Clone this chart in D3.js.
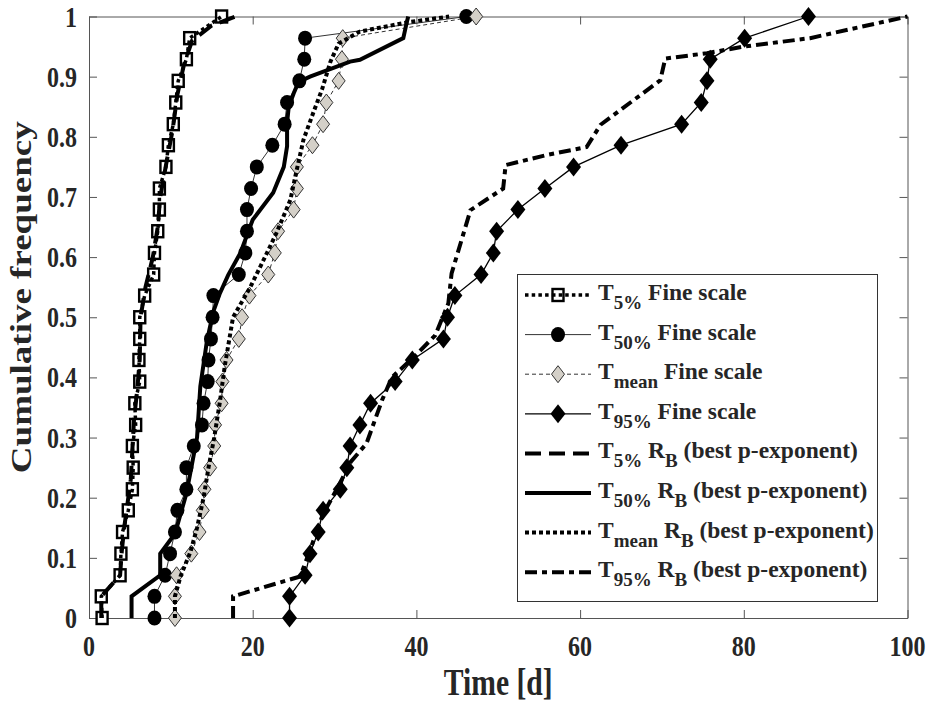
<!DOCTYPE html>
<html>
<head>
<meta charset="utf-8">
<script src="https://cdn.jsdelivr.net/npm/d3@7"></script>
<style>
  body { margin: 0; background: #fff; }
  text { font-family: "Liberation Serif", "Times New Roman", serif; font-weight: bold; fill: #262626; }
</style>
</head>
<body>
<div id="chart"></div>
<script>
// cumulative frequency levels (29 events)
let cumFreq = [0, 0.036, 0.071, 0.107, 0.143, 0.179, 0.214, 0.25, 0.286, 0.321, 0.357, 0.393, 0.429, 0.464,
  0.5, 0.536, 0.571, 0.607, 0.643, 0.679, 0.714, 0.75, 0.786, 0.821, 0.857, 0.893, 0.929, 0.964, 1];

// fine scale times [d]
let t5Fine = [1.6, 1.5, 3.8, 3.9, 4.1, 4.8, 5.3, 5.4, 5.3, 5.7, 5.6, 6.2, 6.1, 6.2, 6.2, 6.8, 7.9, 8.0, 8.4, 8.6,
  8.6, 9.4, 9.7, 10.3, 10.6, 10.9, 11.9, 12.3, 16.2];
let t50Fine = [8.0, 8.0, 9.3, 9.9, 10.5, 10.8, 11.9, 11.9, 12.8, 13.8, 14.0, 14.5, 14.6, 14.9, 15.1, 15.2, 18.3,
  19.1, 19.3, 19.3, 19.8, 20.5, 22.4, 23.9, 24.2, 25.7, 26.3, 26.4, 46.1];
let tMeanFine = [10.5, 10.5, 10.7, 12.5, 13.5, 13.9, 14.1, 14.8, 15.3, 15.4, 16.2, 16.3, 16.8, 18.3, 18.7, 19.6,
  21.9, 22.7, 23.1, 25.0, 25.4, 25.4, 27.3, 28.6, 29.0, 30.5, 30.9, 31.0, 47.3];
let t95Fine = [24.5, 24.5, 26.4, 27.0, 28.0, 28.6, 30.7, 31.5, 31.9, 33.1, 34.4, 37.4, 39.5, 43.3, 43.8, 44.7,
  47.9, 49.4, 49.8, 52.4, 55.7, 59.2, 65.0, 72.4, 74.8, 75.5, 75.9, 80.1, 87.9];

// R_B (best p-exponent) curves
let t5RbX = [1.5, 1.5, 3.8, 4.0, 4.3, 4.7, 5.1, 5.3, 5.5, 5.9, 6.2, 6.3, 6.9, 7.8, 8.4, 8.7, 9.5, 10.2, 10.8, 11.6, 12.6, 15.0, 17.9];
let t5RbY = [0, 0.036, 0.071, 0.11, 0.15, 0.19, 0.23, 0.28, 0.33, 0.38, 0.43, 0.5, 0.55, 0.6, 0.65, 0.7, 0.76, 0.81, 0.87, 0.92, 0.96, 0.985, 1];
let t50RbX = [5.2, 5.2, 8.7, 8.7, 10.5, 11.9, 13.2, 13.6, 14.4, 15.2, 16.0, 17.0, 18.5, 20.0, 22.5, 23.8, 24.2, 24.2,
  24.4, 25.0, 25.6, 27.0, 31.9, 33.1, 38.4, 38.8, 39.0];
let t50RbY = [0, 0.036, 0.071, 0.107, 0.14, 0.207, 0.30, 0.385, 0.46, 0.51, 0.54, 0.57, 0.607, 0.662, 0.707, 0.75,
  0.784, 0.823, 0.85, 0.872, 0.891, 0.90, 0.925, 0.928, 0.964, 0.989, 1.0];
let tMeanRbX = [10.5, 10.5, 11.2, 12.4, 13.2, 14.0, 14.6, 15.3, 16.0, 16.6, 17.6, 19.7, 21.5, 22.9, 24.6, 25.3, 26.2,
  27.4, 28.5, 29.5, 30.5, 33.1, 38.8, 44.0];
let tMeanRbY = [0, 0.036, 0.07, 0.11, 0.15, 0.2, 0.25, 0.3, 0.36, 0.42, 0.5, 0.55, 0.6, 0.64, 0.695, 0.74, 0.795,
  0.84, 0.88, 0.925, 0.955, 0.975, 0.99, 1.0];
let t95RbX = [17.6, 17.6, 25.8, 27.2, 28.5, 30.5, 32.0, 33.9, 35.8, 37.0, 39.7, 42.3, 43.9, 44.3, 45.4, 46.6, 50.6,
  50.9, 56.0, 60.8, 62.5, 69.8, 70.4, 75.5, 80.0, 88.1, 100];
let t95RbY = [0, 0.036, 0.069, 0.12, 0.17, 0.22, 0.26, 0.29, 0.362, 0.4, 0.434, 0.47, 0.523, 0.573, 0.623, 0.678,
  0.714, 0.753, 0.77, 0.783, 0.82, 0.894, 0.93, 0.939, 0.95, 0.964, 1.0];

let xTicks = [0, 20, 40, 60, 80, 100];
let yTicks = [0, 0.1, 0.2, 0.3, 0.4, 0.5, 0.6, 0.7, 0.8, 0.9, 1];
let yTickLabels = ["0", "0.1", "0.2", "0.3", "0.4", "0.5", "0.6", "0.7", "0.8", "0.9", "1"];

// legend entries: subscript + whether it is an R_B curve
let legendSubs = ["5%", "50%", "mean", "95%", "5%", "50%", "mean", "95%"];
let legendIsRb = [false, false, false, false, true, true, true, true];

// set the dimensions and margins of the graph
let margin = {top: 16.5, right: 23.5, bottom: 87, left: 89},
    width = 931 - margin.left - margin.right,
    height = 705 - margin.top - margin.bottom;

let svg = d3.select("#chart")
  .append("svg")
    .attr("width", 931)
    .attr("height", 705);

svg.append("rect").attr("width", 931).attr("height", 705).attr("fill", "#fff");

let g = svg.append("g")
    .attr("transform", "translate(" + margin.left + "," + margin.top + ")");

let x = d3.scaleLinear().domain([0, 100]).range([0, width]);
let y = d3.scaleLinear().domain([0, 1]).range([height, 0]);

// axes box + inward ticks (MATLAB style)
let axisColor = "#555";
let tickLen = 8;
let xb = g.append("g").attr("transform", "translate(0," + height + ")")
  .call(d3.axisBottom(x).tickValues(xTicks).tickSizeInner(-tickLen).tickSizeOuter(0).tickFormat(""));
let xt = g.append("g")
  .call(d3.axisTop(x).tickValues(xTicks).tickSizeInner(-tickLen).tickSizeOuter(0).tickFormat(""));
let yl = g.append("g")
  .call(d3.axisLeft(y).tickValues(yTicks).tickSizeInner(-tickLen).tickSizeOuter(0).tickFormat(""));
let yr = g.append("g").attr("transform", "translate(" + width + ",0)")
  .call(d3.axisRight(y).tickValues(yTicks).tickSizeInner(-tickLen).tickSizeOuter(0).tickFormat(""));
[xb, xt, yl, yr].forEach(function(a) {
  a.selectAll("path, line").attr("stroke", axisColor).attr("stroke-width", 1);
});

// tick labels (squashed serif like the original)
let sx = 0.8;
xTicks.forEach(function(v) {
  g.append("text")
    .attr("transform", "translate(" + x(v) + "," + (height + 38) + ") scale(" + sx + ",1)")
    .attr("text-anchor", "middle")
    .style("font-size", "30px")
    .text(v);
});
yTicks.forEach(function(v, i) {
  g.append("text")
    .attr("transform", "translate(-12," + (y(v) + 10) + ") scale(" + sx + ",1)")
    .attr("text-anchor", "end")
    .style("font-size", "30px")
    .text(yTickLabels[i]);
});

// axis labels
g.append("text")
  .attr("transform", "translate(" + (width / 2) + "," + (height + 77) + ") scale(" + sx + ",1)")
  .attr("text-anchor", "middle")
  .style("font-size", "37px")
  .text("Time [d]");
g.append("text")
  .attr("transform", "translate(-58," + (height / 2 - 20) + ") rotate(-90) scale(1," + sx + ")")
  .attr("text-anchor", "middle")
  .style("font-size", "37px")
  .text("Cumulative frequency");

// series styles
let fineSeries = [
  {xs: t5Fine, stroke: "#000", width: 3.5, dash: "3.5,3.2", marker: "square"},
  {xs: t50Fine, stroke: "#333", width: 1, dash: null, marker: "circle"},
  {xs: tMeanFine, stroke: "#333", width: 1, dash: "4,3", marker: "diamondGray"},
  {xs: t95Fine, stroke: "#000", width: 1.3, dash: null, marker: "diamondBlack"}
];
let rbSeries = [
  {xs: t5RbX, ys: t5RbY, dash: "16,8"},
  {xs: t50RbX, ys: t50RbY, dash: null},
  {xs: tMeanRbX, ys: tMeanRbY, dash: "4,3"},
  {xs: t95RbX, ys: t95RbY, dash: "12,5,5,5"}
];

let line = d3.line().x(function(d) { return x(d[0]); }).y(function(d) { return y(d[1]); });

function drawMarker(sel, type, px, py) {
  if (type === "square") {
    sel.append("rect").attr("x", px - 5.5).attr("y", py - 6).attr("width", 11).attr("height", 12)
      .attr("fill", "#fff").attr("stroke", "#000").attr("stroke-width", 2.4);
  } else if (type === "circle") {
    sel.append("ellipse").attr("cx", px).attr("cy", py).attr("rx", 7).attr("ry", 7.5).attr("fill", "#000");
  } else if (type === "diamondGray") {
    sel.append("path")
      .attr("d", "M" + px + "," + (py - 8.5) + "L" + (px + 6.5) + "," + py + "L" + px + "," + (py + 8.5) + "L" + (px - 6.5) + "," + py + "Z")
      .attr("fill", "#d4d0c8").attr("stroke", "#333").attr("stroke-width", 1);
  } else {
    sel.append("path")
      .attr("d", "M" + px + "," + (py - 9.5) + "L" + (px + 7.5) + "," + py + "L" + px + "," + (py + 9.5) + "L" + (px - 7.5) + "," + py + "Z")
      .attr("fill", "#000");
  }
}

// fine scale lines (except T5%, drawn over its squares)
fineSeries.forEach(function(s, i) {
  if (i === 0) return;
  g.append("path")
    .datum(s.xs.map(function(v, k) { return [v, cumFreq[k]]; }))
    .attr("d", line).attr("fill", "none")
    .attr("stroke", s.stroke).attr("stroke-width", s.width)
    .attr("stroke-dasharray", s.dash);
});
// fine scale markers
fineSeries.forEach(function(s) {
  let mg = g.append("g");
  s.xs.forEach(function(v, k) { drawMarker(mg, s.marker, x(v), y(cumFreq[k])); });
});
g.append("path")
  .datum(t5Fine.map(function(v, k) { return [v, cumFreq[k]]; }))
  .attr("d", line).attr("fill", "none")
  .attr("stroke", "#000").attr("stroke-width", 3.5).attr("stroke-dasharray", "3.5,3.2");

// R_B lines
rbSeries.forEach(function(s) {
  g.append("path")
    .datum(s.xs.map(function(v, k) { return [v, s.ys[k]]; }))
    .attr("d", line).attr("fill", "none")
    .attr("stroke", "#000").attr("stroke-width", 4)
    .attr("stroke-dasharray", s.dash);
});

// legend
let lg = svg.append("g");
lg.append("rect").attr("x", 517.5).attr("y", 274.5).attr("width", 360).attr("height", 327)
  .attr("fill", "#fff").attr("stroke", "#333").attr("stroke-width", 1);

legendSubs.forEach(function(sub, i) {
  let ly = 295 + i * 39.6;
  let s = legendIsRb[i] ? rbSeries[i - 4] : fineSeries[i];
  lg.append("line").attr("x1", 525).attr("x2", 591).attr("y1", ly).attr("y2", ly)
    .attr("stroke", legendIsRb[i] ? "#000" : s.stroke)
    .attr("stroke-width", legendIsRb[i] ? 4 : s.width)
    .attr("stroke-dasharray", s.dash);
  if (!legendIsRb[i]) drawMarker(lg, s.marker, 558, ly);
  if (i === 0) {
    lg.append("line").attr("x1", 552).attr("x2", 564).attr("y1", ly).attr("y2", ly)
      .attr("stroke", "#000").attr("stroke-width", 3.5).attr("stroke-dasharray", "3.5,3.2");
  }
  let t = lg.append("text").attr("x", 598).attr("y", ly + 5).style("font-size", "23.5px");
  t.append("tspan").text("T");
  t.append("tspan").attr("dy", 9).style("font-size", "19px").text(sub);
  if (legendIsRb[i]) {
    t.append("tspan").attr("dy", -9).text(" R");
    t.append("tspan").attr("dy", 9).style("font-size", "19px").text("B");
    t.append("tspan").attr("dy", -9).text(" (best p-exponent)");
  } else {
    t.append("tspan").attr("dy", -9).text(" Fine scale");
  }
});
</script>
</body>
</html>
